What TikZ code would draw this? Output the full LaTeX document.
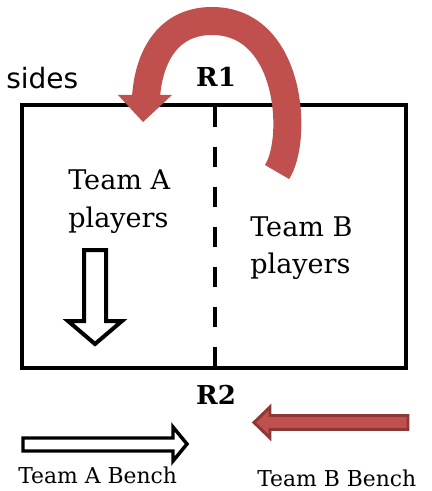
\documentclass[tikz,border=0pt]{standalone}
\usepackage{fontspec}
\setmainfont{DejaVu Serif}
\newfontfamily\handfont{DejaVu Sans}
\definecolor{swapred}{HTML}{C0504D}
\definecolor{swapdark}{HTML}{8C3836}
\tikzset{
  teamtext/.style={inner sep=0, anchor=base west, font=\fontsize{20.3}{24}\selectfont},
  benchtext/.style={inner sep=0, anchor=base west, font=\fontsize{16.4}{20}\selectfont},
  reftext/.style={inner sep=0, anchor=base, font=\bfseries\fontsize{19.5}{23}\selectfont},
  hollow/.style={draw=black, fill=white, line width=2.6pt, line join=miter}
}

\begin{document}
\begin{tikzpicture}[x=0.75pt,y=-0.75pt]
\useasboundingbox (0,0) rectangle (431,491);

% court and middle line
\draw[line width=3pt] (22,105) rectangle (406,368);
\draw[line width=3.5pt, dash pattern=on 15pt off 15pt] (215,107) -- (215,374);

% big curved arrow over R1
\draw[swapred, line width=21pt] (277,172) .. controls (298,140) and (292,21) .. (212,21)
  .. controls (169,21) and (149,55) .. (146,97);
\fill[swapred] (118,95) -- (172,95) -- (143,122) -- cycle;

% team A moves down
\draw[hollow, line width=3pt] (84,250) -- (106,250) -- (106,321) -- (122,321) -- (95,344) -- (68,321) -- (84,321) -- cycle;

% benches
\draw[hollow] (23,438) -- (173,438) -- (173,427) -- (187,444) -- (173,461) -- (173,451) -- (23,451) -- cycle;
\draw[draw=swapdark, fill=swapred, line width=2.2pt, line join=miter] (408,415.5) -- (270,415.5) -- (270,407) -- (254,422.5) -- (270,438) -- (270,429.5) -- (408,429.5) -- cycle;

\node[inner sep=0, anchor=base west, font=\handfont\fontsize{21}{24}\selectfont] (sides) at (6,89) {sides};
\node[reftext] (r1) at (216,87) {R1};
\node[reftext] (r2) at (216,404) {R2};

\node[teamtext] (teamA) at (68,190) {Team A};
\node[teamtext] (teamAp) at (68,227) {players};
\node[teamtext] (teamB) at (250,236) {Team B};
\node[teamtext] (teamBp) at (250,273) {players};

\node[benchtext] (benchA) at (18,483) {Team A Bench};
\node[benchtext] (benchB) at (257,486) {Team B Bench};
\end{tikzpicture}
\end{document}
